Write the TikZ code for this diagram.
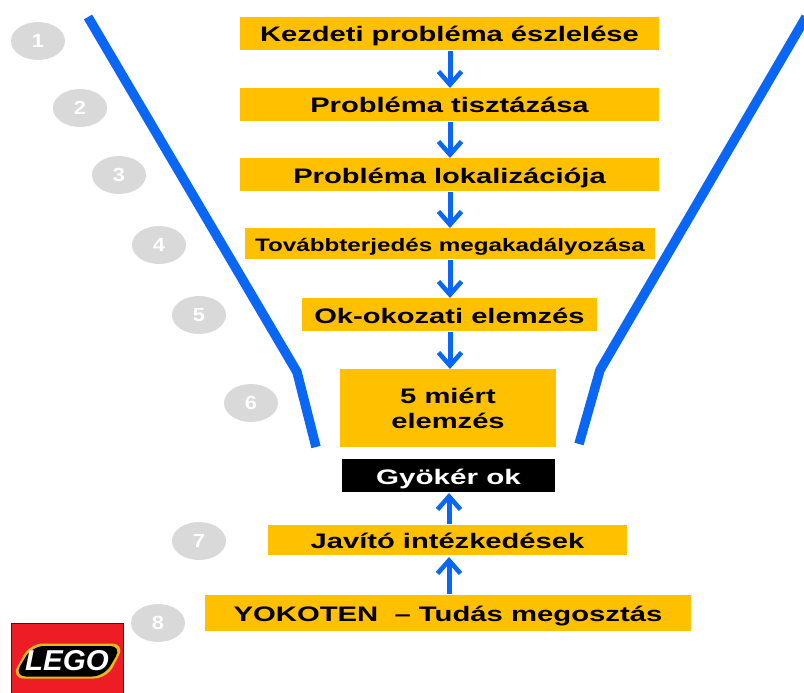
\documentclass[tikz,border=0pt]{standalone}
\usepackage{fontspec}
\setmainfont{Liberation Sans}
\usetikzlibrary{arrows.meta,shapes.geometric}
\definecolor{amber}{HTML}{FFC000}
\definecolor{brightblue}{HTML}{0A66F5}
\definecolor{numgray}{HTML}{D9D9D9}
\definecolor{legored}{HTML}{EE1C25}
\definecolor{legoyellow}{HTML}{E8B820}
\tikzset{
  stepbox/.style={fill=amber,inner sep=0pt,align=center,text height=17pt,text depth=0pt,font=\bfseries\fontsize{21}{25}\selectfont},
  num/.style={ellipse,fill=numgray,text=white,inner sep=0pt,minimum width=54pt,minimum height=38pt,font=\bfseries\fontsize{19}{19}\selectfont},
  flow/.style={draw=brightblue,line width=5pt,-{Straight Barb[length=13pt,width=23pt,line width=4.6pt]},shorten <=1pt},
  funnel/.style={draw=brightblue,line width=9.5pt,line join=round}
}
\newcommand{\wide}[2][1.387]{\scalebox{#1}[1]{#2}}
\begin{document}
\begin{tikzpicture}[x=1pt,y=-1pt]
\useasboundingbox (0,0) rectangle (804,693);
% boxes
\node[stepbox,minimum width=419pt,minimum height=33pt] (a) at (449.5,33.5) {\wide{Kezdeti probléma észlelése}};
\node[stepbox,minimum width=419pt,minimum height=33pt] (b) at (449.5,104.5) {\wide{Probléma tisztázása}};
\node[stepbox,minimum width=419pt,minimum height=33pt] (c) at (449.5,174.5) {\wide{Probléma lokalizációja}};
\node[stepbox,minimum width=410pt,minimum height=31pt,text height=15pt,font=\bfseries\fontsize{18}{20}\selectfont] (d) at (450,243.5) {\wide[1.345]{Továbbterjedés megakadályozása}};
\node[stepbox,minimum width=295pt,minimum height=33pt] (e) at (449.5,314.5) {\wide{Ok-okozati elemzés}};
\node[fill=amber,inner sep=0pt,align=center,font=\bfseries\fontsize{21}{25}\selectfont,minimum width=216pt,minimum height=78pt] (f) at (448,408) {\wide{5 miért}\\\wide{elemzés}};
\node[fill=black,text=white,inner sep=0pt,text height=17pt,text depth=0pt,minimum width=213pt,minimum height=33pt,font=\bfseries\fontsize{21}{21}\selectfont] (g) at (448.5,475.5) {\wide[1.41]{Gyökér ok}};
\node[stepbox,minimum width=359pt,minimum height=30pt] (h) at (447.5,540) {\wide{Javító intézkedések}};
\node[stepbox,minimum width=486pt,minimum height=36pt] (i) at (448,613) {\wide[1.393]{YOKOTEN~~– Tudás megosztás}};
% flow arrows
\coordinate (a1) at (450,50);  \coordinate (b0) at (450,88);
\coordinate (b1) at (450,121); \coordinate (c0) at (450,158);
\coordinate (c1) at (450,191); \coordinate (d0) at (450,228);
\coordinate (d1) at (450,259); \coordinate (e0) at (450,298);
\coordinate (e1) at (450,331); \coordinate (f0) at (450,369);
\coordinate (h0) at (449,525); \coordinate (g1) at (449,493);
\coordinate (i0) at (449,595); \coordinate (h1) at (449,557);
\draw[flow] (a1) -- (b0);
\draw[flow] (b1) -- (c0);
\draw[flow] (c1) -- (d0);
\draw[flow] (d1) -- (e0);
\draw[flow] (e1) -- (f0);
\draw[flow] (h0) -- (g1);
\draw[flow] (i0) -- (h1);
% funnel
\coordinate (l0) at (88,17);  \coordinate (l1) at (297,372); \coordinate (l2) at (316,447);
\coordinate (r0) at (806,17); \coordinate (r1) at (600,370); \coordinate (r2) at (579,444);
\draw[funnel] (l0) -- (l1) -- (l2);
\draw[funnel] (r0) -- (r1) -- (r2);
% numbers
\node[num] (n1) at (38,41) {\scalebox{1.15}[1]{1}};
\node[num] (n2) at (80,108) {\scalebox{1.15}[1]{2}};
\node[num] (n3) at (119,175) {\scalebox{1.15}[1]{3}};
\node[num] (n4) at (159,245) {\scalebox{1.15}[1]{4}};
\node[num] (n5) at (199,315) {\scalebox{1.15}[1]{5}};
\node[num] (n6) at (251,403) {\scalebox{1.15}[1]{6}};
\node[num] (n7) at (199,541) {\scalebox{1.15}[1]{7}};
\node[num] (n8) at (158,623) {\scalebox{1.15}[1]{8}};
% logo
\fill[legored,draw=black!60!legored,line width=1pt] (11,623.5) rectangle (123,693);
\fill[legoyellow,rounded corners=13pt] (11,678.5) -- (30,643.5) -- (125,643.5) -- (107,678.5) -- cycle;
\fill[black,rounded corners=12pt] (14,676.5) -- (32,646) -- (122,646) -- (104,676.5) -- cycle;
\node[text=white,inner sep=0pt,font=\bfseries\itshape\fontsize{25}{25}\selectfont] (logo) at (67,661) {\scalebox{1.18}[1.15]{LEGO}};
\end{tikzpicture}
\end{document}
